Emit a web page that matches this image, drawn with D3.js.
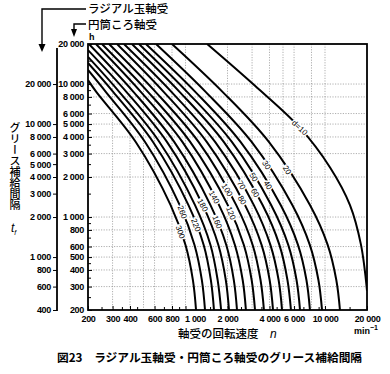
<!DOCTYPE html>
<html>
<head>
<meta charset="utf-8">
<script src="https://cdn.jsdelivr.net/npm/d3@7"></script>
<style>
body { margin: 0; background: #fff; }
svg text { font-family: "Liberation Sans", Arial, sans-serif; }
.jp { font-family: "Noto Sans CJK JP", sans-serif; }
</style>
</head>
<body>
<div id="chart"></div>
<script>
// curves: [speed n (min^-1), interval (h, cylindrical roller scale)]
const d10 = [[1430, 20000], [3150, 9700], [6600, 4700], [10900, 2350], [15100, 1230], [18100, 620], [20000, 280]];
const d20 = [[800, 20000], [1850, 8700], [3960, 3670], [7800, 1230], [10450, 617], [12050, 336], [12800, 200]];
const d30 = [[615, 20000], [1400, 8700], [2980, 3670], [5830, 1230], [7780, 617], [8970, 336], [9520, 200]];
const d40 = [[520, 20000], [1180, 8700], [2480, 3670], [4810, 1230], [6400, 617], [7360, 336], [7800, 200]];
const d50 = [[464, 20000], [1030, 8700], [2150, 3670], [4110, 1230], [5450, 617], [6250, 336], [6620, 200]];
const d60 = [[413, 20000], [910, 8700], [1880, 3670], [3570, 1230], [4710, 617], [5380, 336], [5700, 200]];
const d70 = [[362, 20000], [796, 8700], [1630, 3670], [3090, 1230], [4060, 617], [4650, 336], [4920, 200]];
const d80 = [[323, 20000], [700, 8700], [1420, 3670], [2670, 1230], [3510, 617], [4010, 336], [4240, 200]];
const d100 = [[283, 20000], [612, 8700], [1240, 3670], [2310, 1230], [3030, 617], [3450, 336], [3650, 200]];
const d120 = [[252, 20000], [540, 8700], [1080, 3670], [2010, 1230], [2620, 617], [2980, 336], [3150, 200]];
const d140 = [[228, 20000], [480, 8700], [950, 3670], [1740, 1230], [2260, 617], [2570, 336], [2710, 200]];
const d160 = [[203, 20000], [425, 8700], [830, 3670], [1510, 1230], [1960, 617], [2220, 336], [2340, 200]];
const d180 = [[200, 18000], [378, 8700], [736, 3670], [1330, 1230], [1720, 617], [1945, 336], [2050, 200]];
const d200 = [[200, 16000], [336, 8700], [650, 3670], [1170, 1230], [1510, 617], [1700, 336], [1800, 200]];
const d220 = [[200, 14400], [304, 8700], [585, 3670], [1050, 1230], [1350, 617], [1520, 336], [1600, 200]];
const d260 = [[200, 12750], [269, 8700], [513, 3670], [909, 1230], [1160, 617], [1310, 336], [1380, 200]];
const d300 = [[200, 10700], [230, 8700], [440, 3670], [782, 1230], [1000, 617], [1130, 336], [1190, 200]];

const boreSizes = [10, 20, 30, 40, 50, 60, 70, 80, 100, 120, 140, 160, 180, 200, 220, 260, 300];
const curveData = [d10, d20, d30, d40, d50, d60, d70, d80, d100, d120, d140, d160, d180, d200, d220, d260, d300];

// curve labels: [d, n, t]
const curveLabels = [
    [10, 6600, 4700], [20, 5360, 2260], [30, 3810, 2460], [40, 3900, 1740],
    [50, 3080, 2000], [60, 3160, 1520], [70, 2520, 1740], [80, 2550, 1340],
    [100, 1990, 1600], [120, 2120, 1070], [140, 1610, 1410], [160, 1690, 918],
    [180, 1330, 1230], [220, 1190, 871], [260, 950, 1090], [300, 920, 772]
];

const xTicks = [200, 300, 400, 600, 800, 1000, 2000, 4000, 6000, 10000, 20000];
const yTicks = [200, 300, 400, 500, 600, 800, 1000, 2000, 3000, 4000, 5000, 6000, 8000, 10000, 20000];
const yOuterTicks = [400, 600, 800, 1000, 2000, 3000, 4000, 5000, 6000, 8000, 10000, 20000];
const minorTicks = [250, 350, 450, 700, 900, 1500, 2500, 3500, 4500, 7000, 9000, 15000];
const gridValues = [300, 400, 500, 600, 800, 1000, 2000, 3000, 4000, 5000, 6000, 8000, 10000];

const width = 390;
const height = 374;
const plotLeft = 88, plotRight = 367, plotTop = 44, plotBottom = 310;

const x = d3.scaleLog().domain([200, 20000]).range([plotLeft, plotRight]);
const y = d3.scaleLog().domain([200, 20000]).range([plotBottom, plotTop]);
// ball bearing scale is twice the roller scale
const yOuter = d3.scaleLog().domain([400, 40000]).range([plotBottom, plotTop]);

const fmt = d => d3.format(',')(d).replace(',', ' ');

const svg = d3.select('#chart').append('svg')
    .attr('width', width)
    .attr('height', height);

svg.append('defs').append('clipPath').attr('id', 'plot')
    .append('rect').attr('x', plotLeft).attr('y', plotTop)
    .attr('width', plotRight - plotLeft).attr('height', plotBottom - plotTop);

// grid
const grid = svg.append('g')
    .attr('stroke', '#8c8c8c')
    .attr('stroke-width', 0.7)
    .attr('stroke-dasharray', '1.2,1.4');
grid.selectAll('.gx').data(gridValues).join('line').attr('class', 'gx')
    .attr('x1', d => x(d)).attr('x2', d => x(d))
    .attr('y1', plotTop).attr('y2', plotBottom);
grid.selectAll('.gy').data(gridValues).join('line').attr('class', 'gy')
    .attr('y1', d => y(d)).attr('y2', d => y(d))
    .attr('x1', plotLeft).attr('x2', plotRight);

// curves
const line = d3.line()
    .x(d => x(d[0]))
    .y(d => y(d[1]))
    .curve(d3.curveCatmullRom.alpha(0.5));

svg.append('g').attr('clip-path', 'url(#plot)')
    .selectAll('path').data(curveData).join('path')
    .attr('d', line)
    .attr('fill', 'none')
    .attr('stroke', '#000')
    .attr('stroke-width', 2);

// curve labels, rotated along the curve
function angleAt(pts, n) {
    const px = pts.map(p => [x(p[0]), y(p[1])]);
    const lx = x(n);
    for (let i = 0; i < px.length - 1; i++) {
        if (lx >= px[i][0] && lx <= px[i + 1][0]) {
            return Math.atan2(px[i + 1][1] - px[i][1], px[i + 1][0] - px[i][0]) * 180 / Math.PI;
        }
    }
    return 60;
}

svg.append('g').selectAll('text').data(curveLabels).join('text')
    .attr('transform', d => {
        const pts = curveData[boreSizes.indexOf(d[0])];
        return `translate(${x(d[1])}, ${y(d[2])}) rotate(${angleAt(pts, d[1])})`;
    })
    .attr('text-anchor', 'middle')
    .attr('dy', '0.35em')
    .attr('font-size', 8)
    .attr('stroke', '#fff')
    .attr('stroke-width', 3)
    .attr('paint-order', 'stroke')
    .text(d => d[0] === 10 ? 'd=10' : d[0]);

// frame
svg.append('rect')
    .attr('x', plotLeft).attr('y', plotTop)
    .attr('width', plotRight - plotLeft).attr('height', plotBottom - plotTop)
    .attr('fill', 'none').attr('stroke', '#000').attr('stroke-width', 1.8);

// x axis
const xAxis = d3.axisBottom(x).tickValues(xTicks).tickFormat(fmt)
    .tickSizeInner(-4).tickSizeOuter(0).tickPadding(6);
const gx = svg.append('g').attr('transform', `translate(0, ${plotBottom})`).call(xAxis);
gx.select('.domain').remove();
gx.selectAll('text').attr('font-size', 9).attr('font-weight', 'bold').attr('letter-spacing', -0.3);
// the 1 000 label sits to the right of its tick in the original
gx.selectAll('text').filter(d => d === 1000).attr('text-anchor', 'start').attr('dx', -1);

const gxm = svg.append('g').attr('transform', `translate(0, ${plotBottom})`)
    .call(d3.axisBottom(x).tickValues(minorTicks).tickFormat('').tickSizeInner(-3).tickSizeOuter(0));
gxm.select('.domain').remove();

// inner y axis (cylindrical roller bearings)
const yAxis = d3.axisLeft(y).tickValues(yTicks).tickFormat(fmt)
    .tickSizeInner(-4).tickSizeOuter(0).tickPadding(4);
const gy = svg.append('g').attr('transform', `translate(${plotLeft}, 0)`).call(yAxis);
gy.select('.domain').remove();
gy.selectAll('text').attr('font-size', 9).attr('font-weight', 'bold').attr('letter-spacing', -0.3);

const gym = svg.append('g').attr('transform', `translate(${plotLeft}, 0)`)
    .call(d3.axisLeft(y).tickValues(minorTicks).tickFormat('').tickSizeInner(-3).tickSizeOuter(0));
gym.select('.domain').remove();

// outer y axis (radial ball bearings)
const outerX = 57;
const yAxisOuter = d3.axisLeft(yOuter).tickValues(yOuterTicks).tickFormat(fmt)
    .tickSizeInner(4).tickSizeOuter(0).tickPadding(2);
const gyo = svg.append('g').attr('transform', `translate(${outerX}, 0)`).call(yAxisOuter);
gyo.select('.domain').remove();
gyo.selectAll('text').attr('font-size', 9).attr('font-weight', 'bold').attr('letter-spacing', -0.3);
svg.append('line')
    .attr('x1', outerX).attr('x2', outerX)
    .attr('y1', 48).attr('y2', plotBottom + 1)
    .attr('stroke', '#000').attr('stroke-width', 1.8);

// bearing type pointers
svg.append('text').attr('class', 'jp').attr('x', 88).attr('y', 13)
    .attr('font-size', 11.5).attr('font-weight', 500).text('ラジアル玉軸受');
svg.append('text').attr('class', 'jp').attr('x', 88).attr('y', 29)
    .attr('font-size', 11.5).attr('font-weight', 500).text('円筒ころ軸受');

svg.append('path').attr('d', 'M86,9H42V45')
    .attr('fill', 'none').attr('stroke', '#000').attr('stroke-width', 1.4);
svg.append('path').attr('d', 'M38.5,44L45.5,44L42,52Z').attr('fill', '#000');
svg.append('path').attr('d', 'M86,24H74V30')
    .attr('fill', 'none').attr('stroke', '#000').attr('stroke-width', 1.4);
svg.append('path').attr('d', 'M71,29L77,29L74,37Z').attr('fill', '#000');

svg.append('text').attr('x', 89).attr('y', 40)
    .attr('font-size', 9).attr('font-weight', 'bold').text('h');

// y title
svg.append('text').attr('class', 'jp')
    .attr('x', 15).attr('y', 122)
    .style('writing-mode', 'vertical-rl')
    .attr('font-size', 11).attr('font-weight', 500)
    .text('グリース補給間隔');
const tf = svg.append('text').attr('x', 11).attr('y', 232)
    .attr('font-family', '"Liberation Serif", serif')
    .attr('font-style', 'italic').attr('font-size', 12);
tf.append('tspan').text('t');
tf.append('tspan').attr('font-size', 7).attr('dy', 3).text('f');

// x title
svg.append('text').attr('class', 'jp')
    .attr('x', 178).attr('y', 338)
    .attr('font-size', 11.5).attr('font-weight', 500)
    .text('軸受の回転速度');
svg.append('text').attr('x', 270).attr('y', 338)
    .attr('font-family', '"Liberation Serif", serif')
    .attr('font-style', 'italic').attr('font-size', 12).text('n');
const mu = svg.append('text').attr('x', 354).attr('y', 334)
    .attr('font-size', 9).attr('font-weight', 'bold');
mu.append('tspan').text('min');
mu.append('tspan').attr('font-size', 7).attr('dy', -4).text('−1');

// caption
svg.append('text').attr('class', 'jp')
    .attr('x', 57).attr('y', 362)
    .attr('font-size', 11.7).attr('font-weight', 'bold')
    .text('図23　ラジアル玉軸受・円筒ころ軸受のグリース補給間隔');
</script>
</body>
</html>
